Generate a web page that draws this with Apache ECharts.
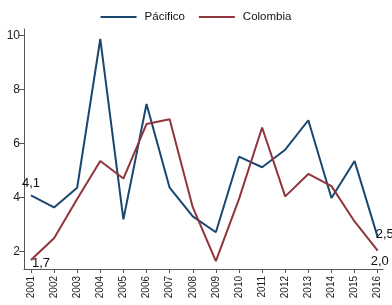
<!DOCTYPE html>
<html>
<head>
<meta charset="utf-8">
<script src="https://cdn.jsdelivr.net/npm/echarts@6/dist/echarts.min.js"></script>
<style>
  html, body { margin: 0; padding: 0; background: #fff; }
  #main { width: 392px; height: 305px; }
</style>
</head>
<body>
<div id="main"></div>
<script>
  var years = [2001, 2002, 2003, 2004, 2005, 2006, 2007, 2008, 2009, 2010, 2011, 2012, 2013, 2014, 2015, 2016]
  var pacifico = [4.09, 3.64, 4.37, 9.88, 3.2, 7.47, 4.37, 3.31, 2.72, 5.52, 5.13, 5.78, 6.87, 3.99, 5.36, 2.54]
  var colombia = [1.69, 2.5, 3.95, 5.36, 4.71, 6.73, 6.91, 3.65, 1.65, 3.95, 6.6, 4.05, 4.88, 4.43, 3.12, 2.04]
  var yTicks = [2, 4, 6, 8, 10]

  var fontName = 'Liberation Sans, Arial, sans-serif'

  function fmt(v) {
    return v.toFixed(1).replace('.', ',')
  }

  // labels only at first and last year
  function buildData(values, firstLabel, lastLabel) {
    return values.map(function (v, i) {
      var item = {value: [years[i], v], label: {show: false}}
      if (i === 0) item.label = firstLabel
      if (i === values.length - 1) item.label = lastLabel
      return item
    })
  }

  var labelBase = {
    show: true,
    color: '#111',
    fontSize: 13,
    fontFamily: fontName,
    formatter: function (p) { return fmt(p.value[1]) }
  }

  var chart = echarts.init(document.getElementById('main'))

  var option = {
    animation: false,
    backgroundColor: '#fff',
    legend: {
      top: 6,
      left: 'center',
      itemWidth: 36,
      itemHeight: 2,
      itemGap: 14,
      icon: 'rect',
      textStyle: {fontSize: 11.5, color: '#111', fontFamily: fontName, padding: [0, 0, 0, 3]},
      data: ['Pácifico', 'Colombia']
    },
    grid: {left: 24, right: 9, top: 29, bottom: 36, containLabel: false},
    xAxis: {
      type: 'value',
      min: 2000.7,
      max: 2016.23,
      splitLine: {show: false},
      axisLine: {show: true, lineStyle: {color: '#555', width: 1}},
      axisTick: {show: true, length: 4, customValues: years, lineStyle: {color: '#555'}},
      axisLabel: {
        customValues: years,
        rotate: 90,
        fontSize: 10,
        color: '#222',
        margin: 7,
        fontFamily: fontName,
        formatter: function (v) { return String(Math.round(v)) }
      }
    },
    yAxis: {
      type: 'value',
      min: 1.36,
      max: 10.25,
      splitLine: {show: false},
      axisLine: {show: true, lineStyle: {color: '#555', width: 1}},
      axisTick: {show: true, length: 5, customValues: yTicks, lineStyle: {color: '#555'}},
      axisLabel: {
        customValues: yTicks,
        fontSize: 12,
        color: '#222',
        margin: 4,
        fontFamily: fontName
      }
    },
    series: [
      {
        name: 'Pácifico',
        type: 'line',
        symbol: 'circle',
        symbolSize: 0.1,
        showSymbol: true,
        color: '#1a476f',
        lineStyle: {width: 2, color: '#1a476f'},
        data: buildData(pacifico,
          Object.assign({}, labelBase, {position: 'top', offset: [0, 0]}),
          Object.assign({}, labelBase, {position: 'right', offset: [-7, -3]}))
      },
      {
        name: 'Colombia',
        type: 'line',
        symbol: 'circle',
        symbolSize: 0.1,
        showSymbol: true,
        color: '#90353b',
        lineStyle: {width: 2, color: '#90353b'},
        data: buildData(colombia,
          Object.assign({}, labelBase, {position: 'right', offset: [-4, 3]}),
          Object.assign({}, labelBase, {position: 'bottom', offset: [2, -1]}))
      }
    ]
  }

  chart.setOption(option)
</script>
</body>
</html>
